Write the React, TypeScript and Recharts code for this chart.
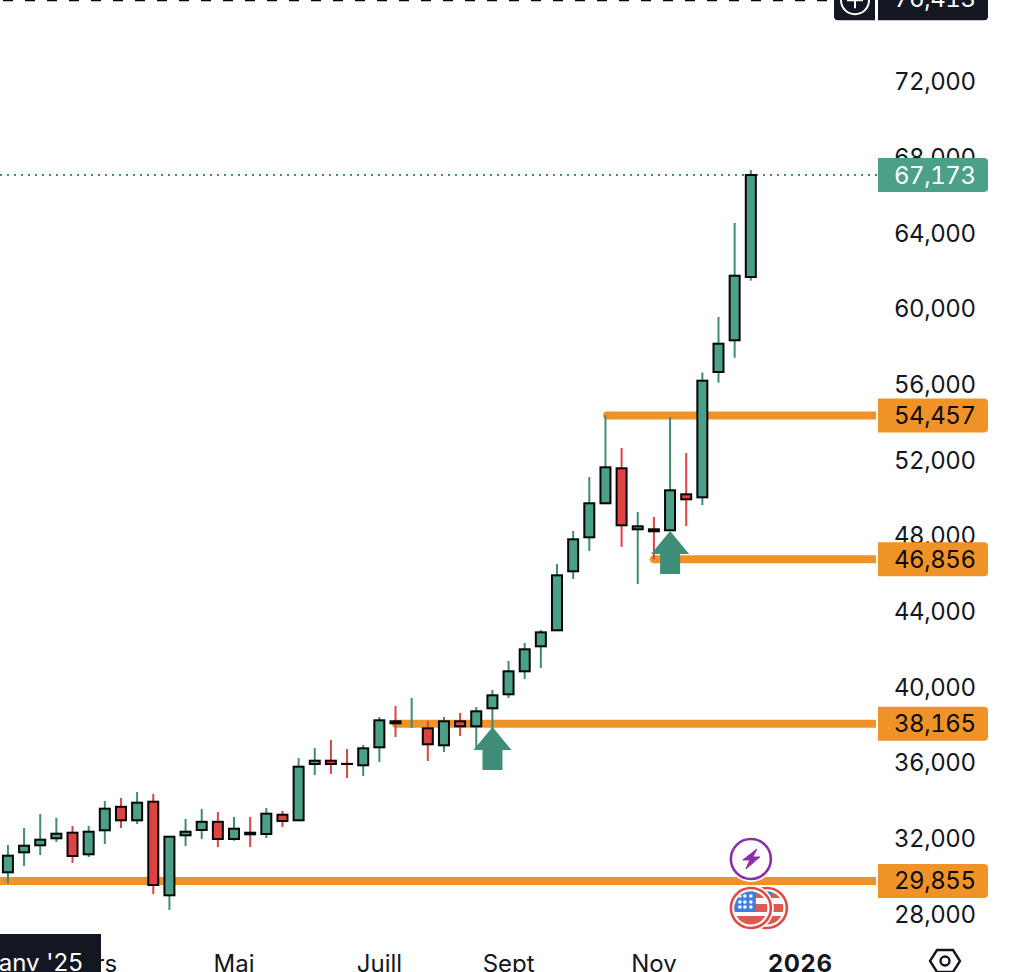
import { Bar, ComposedChart, ReferenceDot, ReferenceLine, XAxis, YAxis } from 'recharts'

const opens = [
  30314, 31371, 31741, 32111, 32407, 31265, 32534, 33776, 33062, 34046, 29098, 32269,
  32550, 32983, 32074, 32407, 32338, 33358, 33062, 36039, 36213, 36045, 35970, 36921,
  38296, 38153, 37925, 37027, 38296, 38031, 38983, 39723, 40939, 42260, 43106, 46225,
  48022, 49820, 51669, 48445, 48445, 48392, 50295, 50136, 56760, 58436, 61781,
]
const highs = [
  31757, 32655, 33395, 33184, 32761, 32761, 34083, 34241, 34558, 34453, 32196, 33131,
  33660, 33501, 33237, 33237, 33713, 33554, 36356, 36884, 37307, 36831, 37043, 38523,
  39104, 39527, 38311, 38523, 38734, 39051, 39950, 41483, 42435, 43122, 46611, 48355,
  51210, 54457, 52742, 49359, 49095, 54381, 52478, 56732, 59667, 64636, 67437,
]
const lows = [
  29732, 30647, 31228, 31915, 30805, 31123, 31810, 32655, 32867, 29167, 28321, 31704,
  32074, 31651, 31984, 31651, 32127, 32708, 33062, 35457, 35510, 35298, 35404, 36144,
  37466, 37942, 36197, 36673, 37519, 36779, 37677, 39527, 40532, 41113, 43106, 45817,
  47298, 49820, 47509, 45553, 46856, 48355, 48620, 49729, 56194, 57516, 61586,
]
const closes = [
  31191, 31720, 32037, 32354, 31175, 32460, 33676, 33062, 33993, 29642, 32196, 32460,
  32983, 32074, 32618, 32322, 33411, 33026, 35896, 36213, 36039, 36039, 36868, 38349,
  38190, 38153, 37080, 38296, 38031, 38824, 39670, 40939, 42102, 42999, 46013, 47916,
  49820, 51722, 48656, 48603, 48339, 50506, 50031, 56300, 58255, 61850, 67173,
]

const priceTicks = [28000, 32000, 36000, 40000, 44000, 48000, 52000, 56000, 60000, 64000, 68000, 72000]
const timeTicks = [5, 14, 23, 31, 40, 49]
const timeLabels = ['Mars', 'Mai', 'Juill', 'Sept', 'Nov', '2026']

// level price, and the candle index its line starts at
const levels = [
  { price: 54457, from: 37.09 },
  { price: 46856, from: 40 },
  { price: 38165, from: 24.02 },
  { price: 29855, from: -0.49 },
]
const lastPrice = 67173
const crosshairPrice = 76413
const arrows = [
  { i: 30, price: 37994 },
  { i: 41, price: 48355 },
]

const candles = opens.map((open, i) => ({
  i,
  open,
  close: closes[i],
  range: [lows[i], highs[i]],
}))

const UP = '#4ba08a'
const UP_WICK = '#3d8c76'
const DOWN = '#dc4342'
const ORANGE = '#ef9329'
const INK = '#131722'
const FONT = 'Inter, "Noto Sans", sans-serif'
const TABULAR = { fontFeatureSettings: '"tnum"' }
const PRICE_SPACING = -0.45
const X_END = 53.75
const X_MAX = 53.81

function Candle(props: any) {
  const { x, y, width, height, payload } = props
  const [low, high] = payload.range
  const k = height / (high - low)
  const up = payload.close >= payload.open
  const cx = x + width / 2
  const bodyTop = y + (high - Math.max(payload.open, payload.close)) * k
  const bodyBottom = y + (high - Math.min(payload.open, payload.close)) * k
  return (
    <g>
      <line x1={cx} x2={cx} y1={y} y2={y + height} stroke={up ? UP_WICK : DOWN} strokeWidth={2} />
      <rect
        x={cx - 5}
        y={bodyTop}
        width={10}
        height={bodyBottom - bodyTop}
        fill={up ? UP : DOWN}
        stroke="#060606"
        strokeWidth={2}
      />
    </g>
  )
}

function PriceTick(props: any) {
  const { y, payload } = props
  return (
    <text x={975.5} y={y + 6.5} textAnchor="end" fontFamily={FONT} fontSize={24} letterSpacing={PRICE_SPACING} fill={INK} style={TABULAR}>
      {payload.value.toLocaleString('en-US')}
    </text>
  )
}

function TimeTick(props: any) {
  const { x, y, payload } = props
  const label = timeLabels[timeTicks.indexOf(payload.value)]
  const bold = label === '2026'
  return (
    <text
      x={bold ? x + 1 : x}
      y={y + 19}
      textAnchor="middle"
      fontFamily={FONT}
      fontSize={24}
      fontWeight={bold ? 700 : 400}
      letterSpacing={bold ? 0.7 : 0}
      fill={INK}
    >
      {label}
    </text>
  )
}

function badgePath(x: number, y: number, w: number, h: number, r: number) {
  return `M${x} ${y}H${x + w - r}Q${x + w} ${y} ${x + w} ${y + r}V${y + h - r}Q${x + w} ${y + h} ${x + w - r} ${y + h}H${x}Z`
}

function PriceBadge(props: any) {
  const { cx, cy, fill, color, text } = props
  return (
    <g>
      <path d={badgePath(cx + 1, cy - 17, 110, 34, 4)} fill={fill} />
      <text x={cx + 98.5} y={cy + 8.5} textAnchor="end" fontFamily={FONT} fontSize={24} letterSpacing={PRICE_SPACING} fill={color} style={TABULAR}>
        {text}
      </text>
    </g>
  )
}

function TopBadge(props: any) {
  const { cx, cy } = props
  return (
    <g>
      <path d={`M${cx - 43} ${cy - 30}H${cx - 2}V${cy + 20}H${cx - 39}Q${cx - 43} ${cy + 20} ${cx - 43} ${cy + 16}Z`} fill={INK} />
      <path d={badgePath(cx + 1, cy - 30, 110, 50, 4)} fill={INK} />
      <circle cx={cx - 22} cy={cy} r={14} fill="none" stroke="#fff" strokeWidth={2} />
      <path d={`M${cx - 22} ${cy - 8}V${cy + 8}M${cx - 30} ${cy}H${cx - 14}`} stroke="#fff" strokeWidth={2} />
      <text x={cx + 98.5} y={cy + 7} textAnchor="end" fontFamily={FONT} fontSize={24} letterSpacing={PRICE_SPACING} fill="#fff" style={TABULAR}>
        {crosshairPrice.toLocaleString('en-US')}
      </text>
    </g>
  )
}

function Arrow(props: any) {
  const { cx, cy } = props
  return (
    <path
      d={`M${cx} ${cy}L${cx + 19} ${cy + 23}H${cx + 10}V${cy + 43}H${cx - 10}V${cy + 23}H${cx - 19}Z`}
      fill="#3f8d78"
    />
  )
}

function BoltIcon(props: any) {
  const { cx, cy } = props
  return (
    <g>
      <circle cx={cx} cy={cy} r={23} fill="#fff" />
      <circle cx={cx} cy={cy} r={20} fill="#fff" stroke="#8a2fa8" strokeWidth={2.6} />
      <path
        d={`M${cx + 6} ${cy - 10}L${cx - 8} ${cy + 1}H${cx - 1}L${cx - 5} ${cy + 10}L${cx + 9} ${cy - 2}H${cx + 2}Z`}
        fill="#8a2fa8"
        stroke="#8a2fa8"
        strokeWidth={1}
        strokeLinejoin="round"
      />
    </g>
  )
}

function Flag({ cx, cy, id }: { cx: number; cy: number; id: string }) {
  return (
    <g>
      <circle cx={cx} cy={cy} r={23} fill="#fff" />
      <clipPath id={id}>
        <circle cx={cx} cy={cy} r={16.5} />
      </clipPath>
      <g clipPath={`url(#${id})`}>
        <rect x={cx - 17} y={cy - 17} width={34} height={34} fill="#fff" />
        <rect x={cx - 17} y={cy - 17} width={34} height={7} fill="#dd5a50" />
        <rect x={cx - 17} y={cy - 4} width={34} height={8} fill="#dd5a50" />
        <rect x={cx - 17} y={cy + 8} width={34} height={9} fill="#dd5a50" />
        <rect x={cx - 17} y={cy - 17} width={22} height={21} fill="#3f7fe0" />
        {[-12, -6, -1].map((dy) =>
          [-11, -6, 0].map((dx) => <circle key={`${dy}${dx}`} cx={cx + dx} cy={cy + dy} r={1.8} fill="#fff" />),
        )}
      </g>
      <circle cx={cx} cy={cy} r={20} fill="none" stroke="#df4a47" strokeWidth={2.6} />
    </g>
  )
}

function FlagsIcon(props: any) {
  const { cx, cy } = props
  return (
    <g>
      <Flag cx={cx + 16} cy={cy} id="flag-back" />
      <Flag cx={cx} cy={cy} id="flag-front" />
    </g>
  )
}

const under = { zIndex: 100 } as any
const over = { zIndex: 2000 } as any

export default function App() {
  return (
    <div style={{ position: 'fixed', left: 0, top: 0, width: 1010, height: 972, overflow: 'hidden', background: '#fff' }}>
      <ComposedChart width={1010} height={972} data={candles} margin={{ top: 0, right: 0, bottom: 0, left: 0 }}>
        <XAxis
          dataKey="i"
          type="number"
          domain={[-0.495, X_MAX]}
          allowDataOverflow
          ticks={timeTicks}
          tick={TimeTick}
          tickLine={false}
          axisLine={false}
          height={27}
          interval={0}
        />
        <YAxis
          orientation="right"
          type="number"
          domain={[26471, 76424]}
          allowDataOverflow
          ticks={priceTicks}
          tick={PriceTick}
          tickLine={false}
          axisLine={false}
          width={133}
          interval={0}
        />
        <ReferenceLine {...under} y={crosshairPrice} stroke="#060606" strokeWidth={2} strokeDasharray="10 12" strokeDashoffset={16} />
        <ReferenceLine {...under} y={lastPrice} stroke={UP_WICK} strokeWidth={2} strokeDasharray="2 5" />
        {levels.map((l) => (
          <ReferenceLine
            {...under}
            key={l.price}
            stroke={ORANGE}
            strokeWidth={8}
            segment={[
              { x: l.from, y: l.price },
              { x: X_END, y: l.price },
            ]}
          />
        ))}
        {levels
          .filter((l) => l.from > 0)
          .map((l) => (
            <ReferenceDot {...under} key={l.price} x={l.from} y={l.price} r={4} fill={ORANGE} stroke="none" />
          ))}
        <Bar dataKey="range" barSize={12} shape={Candle} isAnimationActive={false} />
        {arrows.map((a) => (
          <ReferenceDot {...over} key={a.i} x={a.i} y={a.price} shape={Arrow} />
        ))}
        <ReferenceDot {...over} x={46} y={31017} shape={BoltIcon} />
        <ReferenceDot {...over} x={46} y={28427} shape={FlagsIcon} />
        <ReferenceDot
          {...over}
          x={X_MAX}
          y={lastPrice}
          shape={(p: any) => <PriceBadge {...p} fill={UP} color="#fff" text={lastPrice.toLocaleString('en-US')} />}
        />
        {levels.map((l) => (
          <ReferenceDot
            {...over}
            key={l.price}
            x={X_MAX}
            y={l.price}
            shape={(p: any) => <PriceBadge {...p} fill={ORANGE} color="#0b0b0b" text={l.price.toLocaleString('en-US')} />}
          />
        ))}
        <ReferenceDot {...over} x={X_MAX} y={crosshairPrice} shape={TopBadge} />
      </ComposedChart>
      <div
        style={{
          position: 'absolute',
          left: 0,
          top: 934,
          width: 101,
          height: 38,
          overflow: 'hidden',
          background: INK,
          color: '#fff',
          fontFamily: FONT,
          fontSize: 24,
          lineHeight: '29px',
          paddingTop: 14,
          boxSizing: 'border-box',
          whiteSpace: 'nowrap',
          textIndent: -7,
        }}
      >
        janv '25
      </div>
      <svg style={{ position: 'absolute', left: 928, top: 948 }} width={34} height={24}>
        <path d="M9 2H25L32 13L25 24H9L2 13Z" fill="none" stroke={INK} strokeWidth={2.4} />
        <circle cx={17} cy={13} r={4.5} fill="none" stroke={INK} strokeWidth={2.4} />
      </svg>
    </div>
  )
}
